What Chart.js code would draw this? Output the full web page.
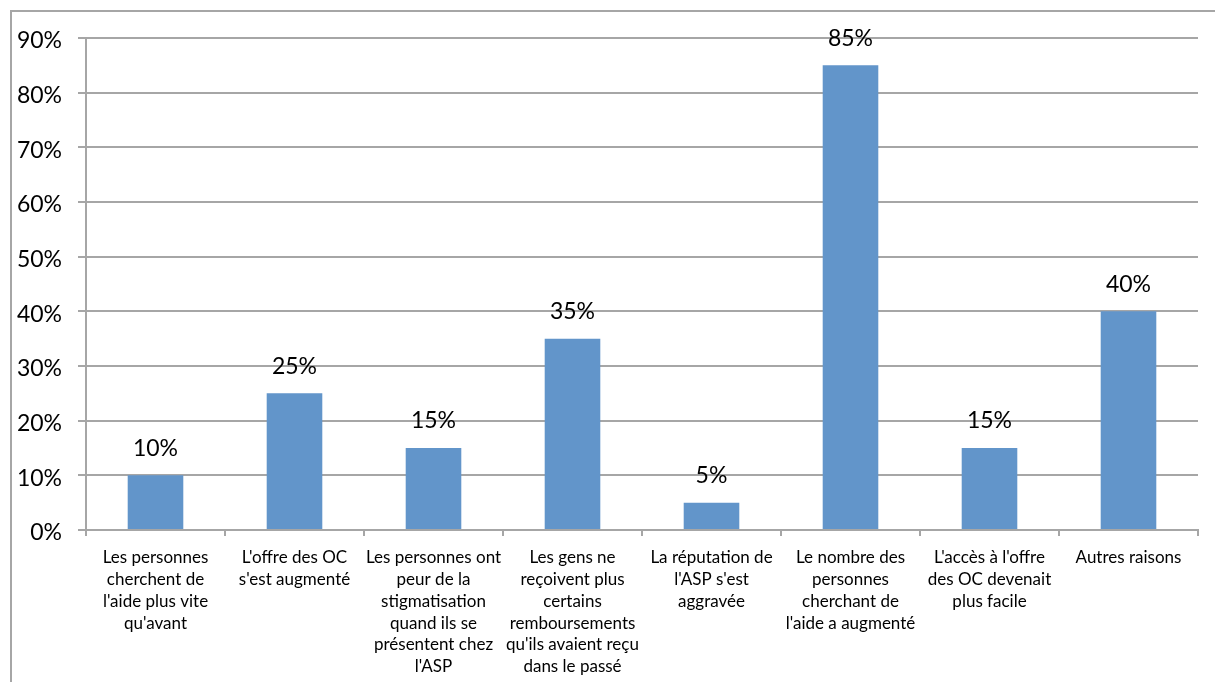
<!DOCTYPE html>
<html>
<head>
<meta charset="utf-8">
<script src="https://cdn.jsdelivr.net/npm/chart.js@4"></script>
<style>
  html, body { margin: 0; padding: 0; background: #fff; overflow: hidden; }
  #frame { position: absolute; left: 10px; top: 10px; width: 1400px; height: 900px; border: 2px solid #a6a6a6; box-sizing: border-box; }
  #c { position: absolute; left: 0; top: 0; }
</style>
</head>
<body>
<div id="frame"></div>
<canvas id="c" width="1215" height="682"></canvas>
<script>
const categories = [
  ["Les personnes", "cherchent de", "l'aide plus vite", "qu'avant"],
  ["L'offre des OC", "s'est augmenté"],
  ["Les personnes ont", "peur de la", "stigmatisation", "quand ils se", "présentent chez", "l'ASP"],
  ["Les gens ne", "reçoivent plus", "certains", "remboursements", "qu'ils avaient reçu", "dans le passé"],
  ["La réputation de", "l'ASP s'est", "aggravée"],
  ["Le nombre des", "personnes", "cherchant de", "l'aide a augmenté"],
  ["L'accès à l'offre", "des OC devenait", "plus facile"],
  ["Autres raisons"]
];
const values = [10, 25, 15, 35, 5, 85, 15, 40];
const yTicks = [0, 10, 20, 30, 40, 50, 60, 70, 80, 90];

const gridColor = "#a6a6a6";
const FONT = "Lato, 'Open Sans', sans-serif";

const valueLabels = {
  id: 'valueLabels',
  afterDatasetsDraw(chart) {
    const ctx = chart.ctx;
    const meta = chart.getDatasetMeta(0);
    ctx.save();
    ctx.font = "23px " + FONT;
    ctx.fillStyle = "#000";
    ctx.textAlign = "center";
    ctx.textBaseline = "middle";
    meta.data.forEach((bar, i) => {
      ctx.fillText(values[i] + "%", bar.x, bar.y - 27);
    });
    ctx.restore();
  }
};

new Chart(document.getElementById('c'), {
  type: 'bar',
  data: {
    labels: categories,
    datasets: [{
      data: values,
      backgroundColor: "#6295ca",
      borderWidth: 0,
      barPercentage: 0.4,
      categoryPercentage: 1.0
    }]
  },
  options: {
    responsive: false,
    animation: false,
    devicePixelRatio: 1,
    layout: { padding: { top: 38, right: 17, left: 0, bottom: 0 } },
    plugins: { legend: { display: false }, tooltip: { enabled: false } },
    scales: {
      x: {
        grid: { display: true, drawOnChartArea: false, offset: true, color: gridColor, tickLength: 6, lineWidth: 2 },
        border: { display: true, color: gridColor, width: 2 },
        ticks: { color: "#000", font: { family: FONT, size: 17, lineHeight: 1.28 }, maxRotation: 0, minRotation: 0, autoSkip: false, padding: 11 },
        afterFit(scale) { scale.height = 152; }
      },
      y: {
        min: 0, max: 90,
        afterBuildTicks(scale) { scale.ticks = yTicks.map(v => ({ value: v })); },
        grid: { color: gridColor, tickLength: 8, lineWidth: 2 },
        border: { display: true, color: gridColor, width: 2 },
        ticks: { color: "#000", font: { family: FONT, size: 23 }, padding: 16, labelOffset: 3, callback: v => v + "%" },
        afterFit(scale) { scale.width = 86; }
      }
    }
  },
  plugins: [valueLabels]
});
</script>
</body>
</html>
